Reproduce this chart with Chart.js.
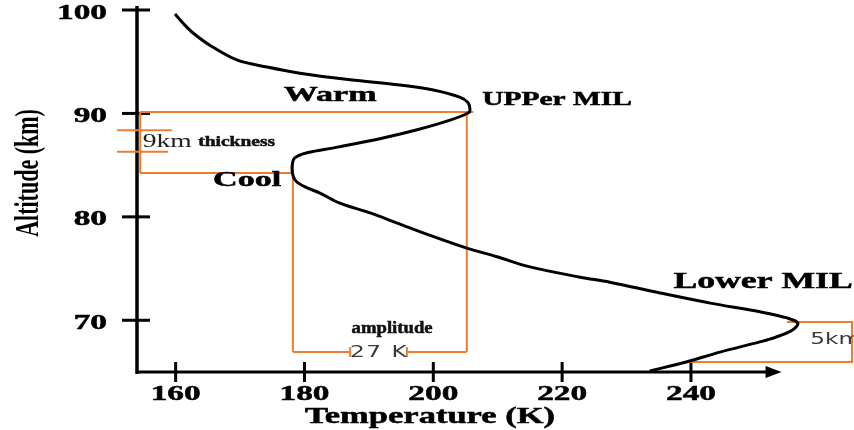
<!DOCTYPE html>
<html>
<head>
<meta charset="utf-8">
<script src="https://cdn.jsdelivr.net/npm/chart.js@4/dist/chart.umd.min.js"></script>
<style>
  body { margin: 0; background: #fff; }
  #wrap { width: 854px; height: 430px; }
</style>
</head>
<body>
<div id="wrap"><canvas id="profile"></canvas></div>
<script>
// Temperature profile (K) against altitude (km)
const curveTemp = [159.9, 161.3, 162.7, 165.3, 169.5, 174.2, 179.3, 187.1, 194.8, 200.0, 204.1, 205.4, 205.7, 205.4,
    202.6, 197.5, 192.2, 185.1, 180.4, 178.5, 178.1, 178.2, 178.7, 180.1, 182.4, 185.5, 190.2, 194.4,
    199.5, 205.2, 209.9, 215.0, 222.8, 227.4, 235.2, 243.0, 250.7, 254.9, 256.6, 255.7, 253.1, 250.7,
    244.5, 239.4, 233.6];
const curveAlt = [99.61, 98.62, 97.78, 96.6, 95.17, 94.48, 93.89, 93.25, 92.75, 92.26, 91.57, 91.03, 90.34, 90.04,
    89.35, 88.42, 87.63, 86.74, 86.2, 85.7, 85.01, 84.03, 83.44, 82.89, 82.3, 81.32, 80.38, 79.4,
    78.21, 76.98, 76.14, 75.16, 74.17, 73.68, 72.64, 71.66, 70.82, 70.23, 69.73, 69.04, 68.35, 67.91,
    66.92, 65.99, 65.1];

// Orange annotation segments (null separates one segment from the next)
const markTemp = [154.5, 206.2, null, 154.5, 178.2, null, 154.5, 154.5, null, 150.9, 159.4, null, 150.9, 158.8, null,
    205.2, 205.2, null, 178.2, 178.2, null, 178.2, 187.1, null, 187.1, 187.1, null, 195.9, 205.2, null,
    195.9, 195.9, null, 254.9, 265.0, 265.0, 239.1];
const markAlt = [90.14, 90.14, null, 84.23, 84.23, null, 90.14, 84.23, null, 88.37, 88.37, null, 86.3, 86.3, null,
    90.14, 66.93, null, 85.51, 66.93, null, 66.93, 66.93, null, 67.42, 66.45, null, 66.93, 66.93, null,
    67.42, 66.45, null, 69.83, 69.83, 65.97, 65.97];

const xTickValues = [160, 180, 200, 220, 240];
const yTickValues = [70, 80, 90, 100];
const xAxisEnd = 253.6;

// text notes, with temperature and altitude where each sits
const noteText = ["Warm", "UPPer MIL", "9km", "thickness", "Cool", "amplitude", "27 K", "Lower MIL", "5km"];
const noteTemp = [184.0, 219.2, 154.9, 163.5, 171.1, 193.6, 191.6, 251.2, 258.5];
const noteAlt = [91.72, 91.32, 87.23, 87.18, 83.54, 69.24, 66.87, 73.68, 68.06];

const SERIF = '"Liberation Serif", "Times New Roman", serif';
const SANS = '"DejaVu Sans", Verdana, sans-serif';
// font, align, horizontal stretch, colour for every note
const noteStyle = [
    ["bold 22px " + SERIF, "center", 1.55, "#000"],
    ["bold 19px " + SERIF, "center", 1.55, "#000"],
    ["19px " + SERIF, "left", 1.45, "#222"],
    ["bold 15px " + SERIF, "left", 1.3, "#111"],
    ["bold 22px " + SERIF, "center", 1.55, "#000"],
    ["bold 17px " + SERIF, "center", 1.1, "#111"],
    ["15px " + SANS, "center", 1.55, "#3a3a3a"],
    ["bold 23px " + SERIF, "center", 1.55, "#000"],
    ["15px " + SANS, "left", 1.55, "#3a3a3a"]
];

function wideText(ctx, text, x, y, font, align, sx, color) {
    ctx.save();
    ctx.font = font;
    ctx.fillStyle = color;
    ctx.strokeStyle = color;
    ctx.lineWidth = 0.5;
    ctx.textAlign = align;
    ctx.textBaseline = "middle";
    ctx.translate(x, y);
    ctx.scale(sx, 1);
    ctx.fillText(text, 0, 0);
    if (font.startsWith("bold")) ctx.strokeText(text, 0, 0); // heavier, like the scanned labels
    ctx.restore();
}

const sketchPlugin = {
    id: "sketch",
    beforeDatasetsDraw(chart) {
        const { ctx, chartArea, scales } = chart;
        const left = chartArea.left, bottom = chartArea.bottom;
        const tip = scales.x.getPixelForValue(xAxisEnd);
        ctx.save();
        ctx.strokeStyle = "#000";
        ctx.fillStyle = "#000";
        // axes
        ctx.lineWidth = 3.5;
        ctx.beginPath();
        ctx.moveTo(left, chartArea.top - 4);
        ctx.lineTo(left, bottom + 2);
        ctx.stroke();
        ctx.lineWidth = 3;
        ctx.beginPath();
        ctx.moveTo(left, bottom);
        ctx.lineTo(tip - 10, bottom);
        ctx.stroke();
        ctx.beginPath();
        ctx.moveTo(tip + 3, bottom);
        ctx.lineTo(tip - 13, bottom - 6);
        ctx.lineTo(tip - 13, bottom + 6);
        ctx.closePath();
        ctx.fill();
        // tick marks
        yTickValues.forEach(v => {
            const py = scales.y.getPixelForValue(v);
            ctx.beginPath();
            ctx.moveTo(left - 15, py);
            ctx.lineTo(left + 13, py);
            ctx.stroke();
        });
        xTickValues.forEach(v => {
            const px = scales.x.getPixelForValue(v);
            ctx.beginPath();
            ctx.moveTo(px, bottom - 10);
            ctx.lineTo(px, bottom + 10);
            ctx.stroke();
        });
        ctx.restore();
    },
    afterDraw(chart) {
        const { ctx, chartArea, scales } = chart;
        const tickFont = "bold 21.5px " + SERIF;
        xTickValues.forEach(v => {
            wideText(ctx, String(v), scales.x.getPixelForValue(v), chartArea.bottom + 22, tickFont, "center", 1.55, "#000");
        });
        yTickValues.forEach(v => {
            wideText(ctx, String(v), chartArea.left - 30, scales.y.getPixelForValue(v) + 3, tickFont, "right", 1.55, "#000");
        });
        // axis titles
        wideText(ctx, "Temperature (K)", 430, chartArea.bottom + 45, "bold 23px " + SERIF, "center", 1.5, "#000");
        ctx.save();
        ctx.translate(29, 173);
        ctx.rotate(-Math.PI / 2);
        ctx.scale(1, 1.5);
        ctx.font = "bold 22px " + SERIF;
        ctx.fillStyle = "#000";
        ctx.textAlign = "center";
        ctx.textBaseline = "middle";
        ctx.fillText("Altitude (km)", 0, 0);
        ctx.restore();
        // notes
        noteText.forEach((t, i) => {
            const st = noteStyle[i];
            const px = scales.x.getPixelForValue(noteTemp[i]);
            const py = scales.y.getPixelForValue(noteAlt[i]);
            ctx.save();
            if (t === "27 K") ctx.letterSpacing = "1px";
            wideText(ctx, t, px, py, st[0], st[1], st[2], st[3]);
            ctx.restore();
        });
    }
};

document.addEventListener("DOMContentLoaded", () => {
    const ctx = document.getElementById("profile").getContext("2d");
    new Chart(ctx, {
        type: "line",
        data: {
            datasets: [
                {
                    label: "Temperature profile",
                    data: curveTemp.map((t, i) => ({ x: t, y: curveAlt[i] })),
                    borderColor: "#000",
                    borderWidth: 3,
                    pointRadius: 0,
                    tension: 0.35,
                    fill: false
                },
                {
                    label: "Annotations",
                    data: markTemp.map((t, i) => ({ x: t, y: markAlt[i] })),
                    borderColor: "rgb(237, 125, 49)",
                    borderWidth: 2,
                    pointRadius: 0,
                    tension: 0,
                    spanGaps: false,
                    clip: false,
                    fill: false
                }
            ]
        },
        options: {
            responsive: true,
            maintainAspectRatio: false,
            animation: false,
            layout: { padding: { top: 10, right: 2, left: 0, bottom: 0 } },
            plugins: {
                legend: { display: false },
                tooltip: { enabled: false }
            },
            scales: {
                x: {
                    type: "linear",
                    min: 154,
                    max: 265,
                    afterFit: scale => { scale.height = 58; },
                    afterBuildTicks: scale => { scale.ticks = xTickValues.map(v => ({ value: v })); },
                    ticks: { display: false },
                    grid: { display: false },
                    border: { display: false }
                },
                y: {
                    type: "linear",
                    min: 65,
                    max: 100,
                    afterFit: scale => { scale.width = 137; },
                    afterBuildTicks: scale => { scale.ticks = yTickValues.map(v => ({ value: v })); },
                    ticks: { display: false },
                    grid: { display: false },
                    border: { display: false }
                }
            }
        },
        plugins: [sketchPlugin]
    });
});
</script>
</body>
</html>
